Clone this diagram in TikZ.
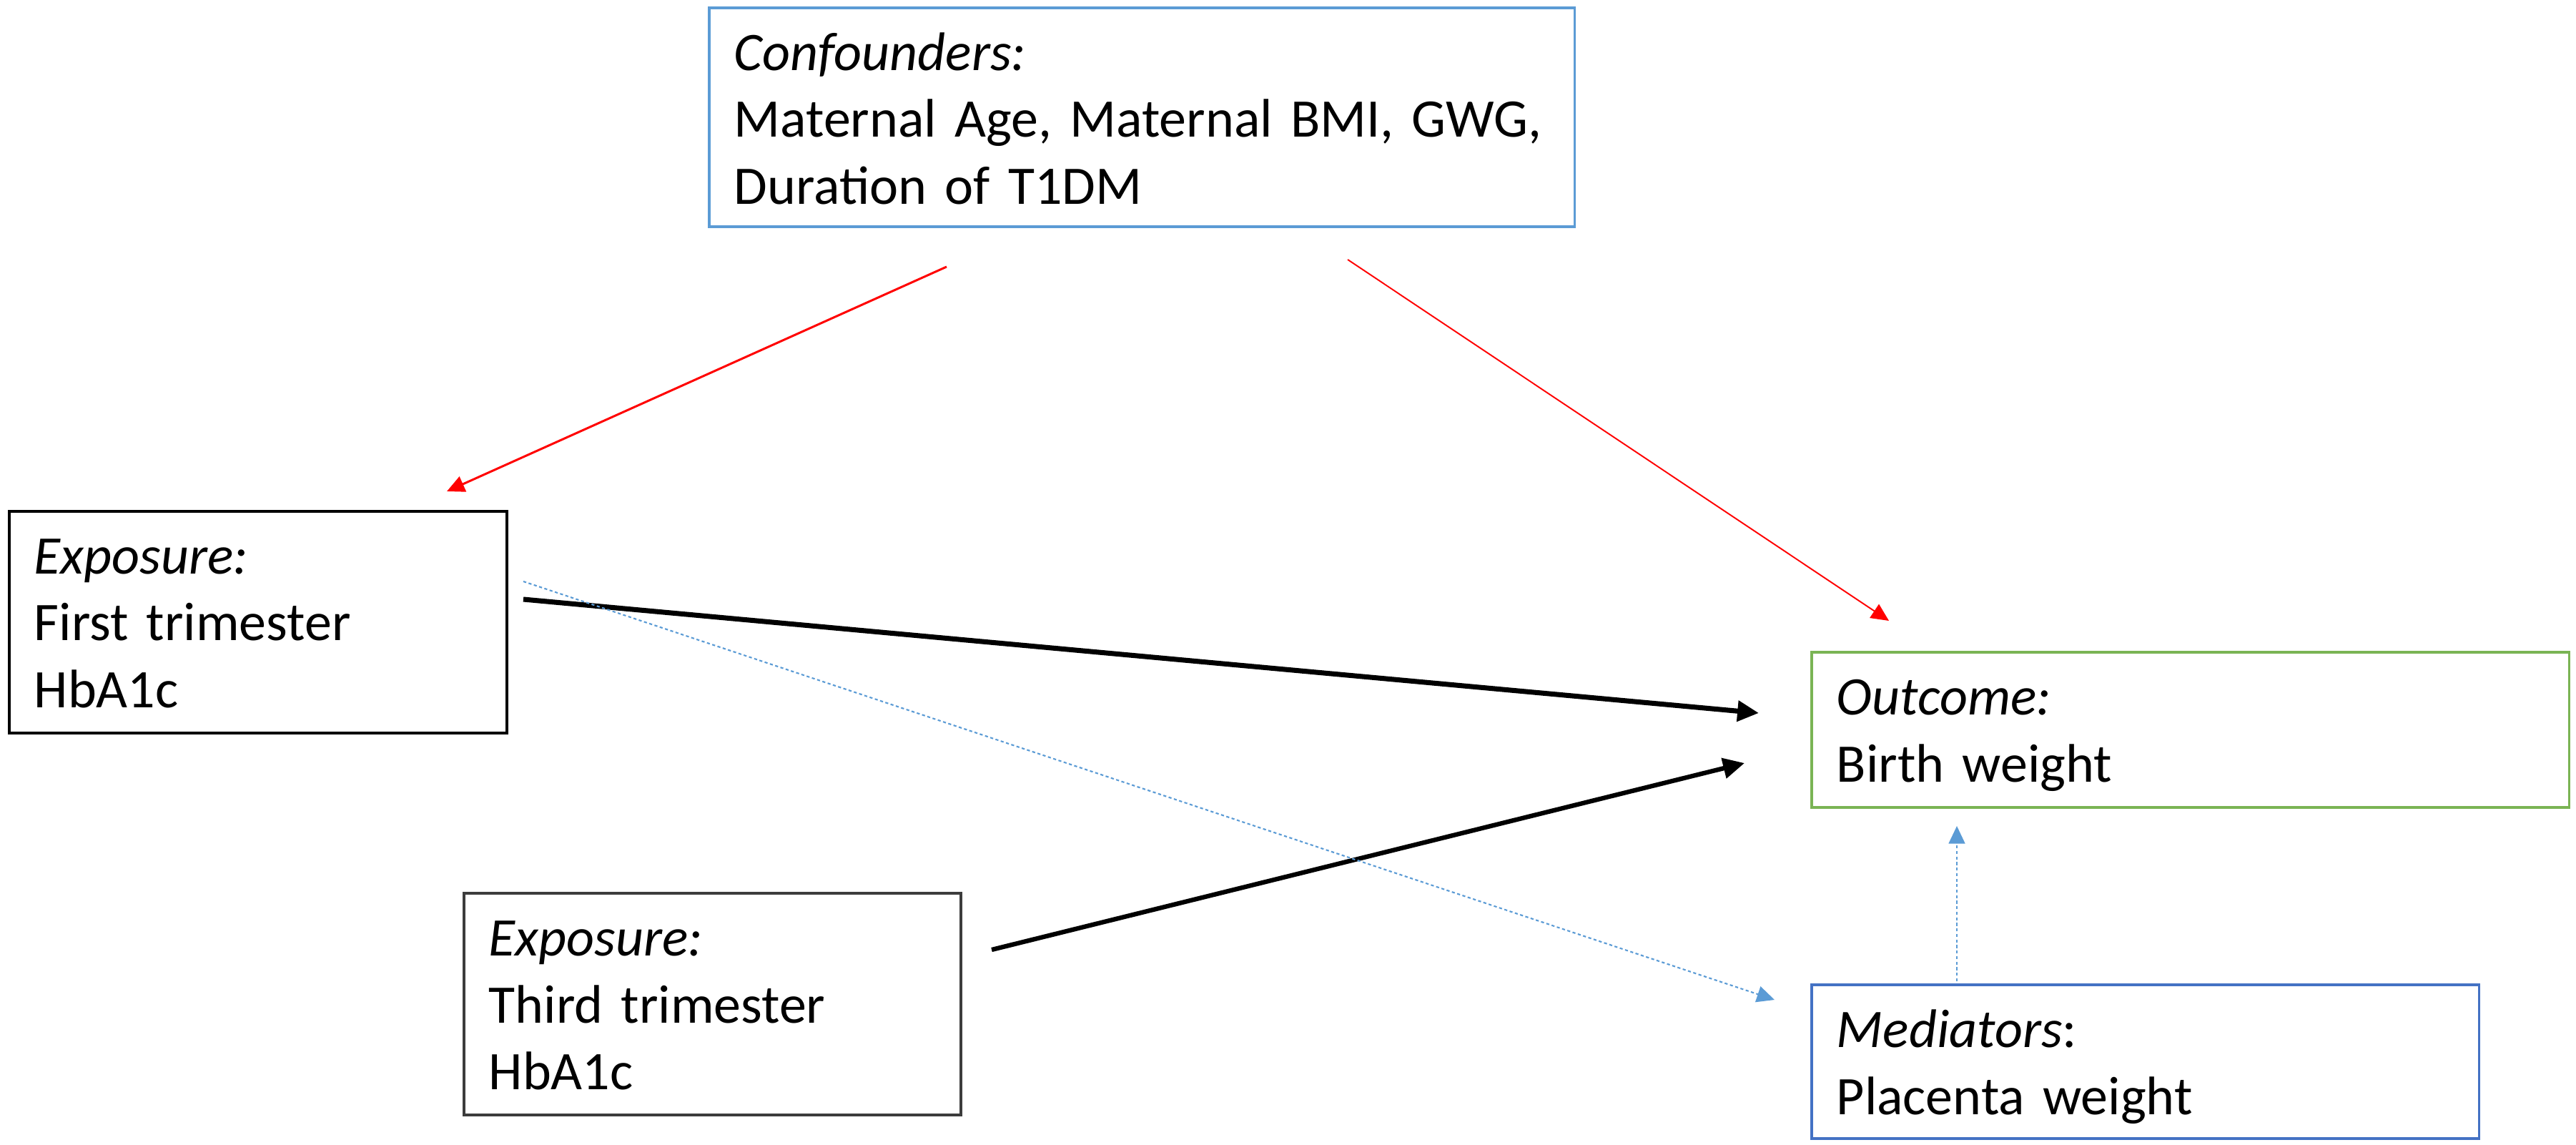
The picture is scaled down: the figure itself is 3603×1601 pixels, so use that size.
\documentclass[tikz,border=0pt]{standalone}
\usepackage{fontspec}
\setmainfont{Carlito}
\usetikzlibrary{arrows.meta}
\definecolor{confblue}{RGB}{91, 155, 213}
\definecolor{medblue}{RGB}{68, 114, 196}
\definecolor{outgreen}{RGB}{122, 180, 84}
\definecolor{expogray}{RGB}{60, 60, 60}
\definecolor{linkred}{RGB}{255, 0, 0}
\definecolor{dotblue}{RGB}{91, 155, 213}

\begin{document}
\begin{tikzpicture}[x=0.01cm, y=-0.01cm,
    box/.style={draw, line width=1pt, anchor=north west, inner xsep=0.35cm, inner ysep=0pt,
                text height=0.88cm, align=left, font=\fontsize{21.6}{26.5}\selectfont},
    redlink/.style={-{Triangle[length=7pt, width=6.5pt]}, color=linkred},
    blacklink/.style={-{Triangle[length=8.5pt, width=8pt]}, line width=2pt},
    bluelink/.style={-{Triangle[length=7pt, width=6.5pt]}, color=dotblue, line width=0.6pt,
                     dash pattern=on 1.2pt off 1pt}]
            \useasboundingbox (0,0) rectangle (3603,1601);
            \node[box, draw=confblue, text width=11.40cm, text depth=2.18cm] (conf)  at ( 990,   9) {\textit{Confounders:}\\Maternal Age, Maternal BMI, GWG,\\Duration of T1DM};
            \node[box, draw=black,    text width= 6.26cm, text depth=2.22cm] (expoA) at (  11, 713) {\textit{Exposure:}\\First trimester\\HbA1c};
            \node[box, draw=expogray, text width= 6.25cm, text depth=2.22cm] (expoC) at ( 647,1247) {\textit{Exposure:}\\Third trimester\\HbA1c};
            \node[box, draw=outgreen, text width= 9.89cm, text depth=1.29cm] (outc)  at (2532, 910) {\textit{Outcome:}\\Birth weight};
            \node[box, draw=medblue,  text width= 8.63cm, text depth=1.27cm] (medi)  at (2532,1375) {\textit{Mediators}:\\Placenta weight};
            \coordinate (confL)  at (1324, 373);  \coordinate (expoAT) at ( 625, 687);
            \coordinate (confR)  at (1885, 363);  \coordinate (outcT)  at (2642, 868);
            \coordinate (expoAR) at ( 732, 838);  \coordinate (outcL)  at (2460, 997);
            \coordinate (expoCR) at (1387,1328);  \coordinate (outcLL) at (2440,1067);
            \coordinate (expoAD) at ( 732, 813);  \coordinate (mediL)  at (2482,1398);
            \coordinate (mediT)  at (2737,1372);  \coordinate (outcB)  at (2737,1155);
            \draw[redlink,   line width=0.85pt] (confL)  -- (expoAT);
            \draw[redlink,   line width=0.55pt] (confR)  -- (outcT);
            \draw[blacklink]                    (expoAR) -- (outcL);
            \draw[blacklink, line width=1.8pt]  (expoCR) -- (outcLL);
            \draw[bluelink]                     (expoAD) -- (mediL);
            \draw[bluelink]                     (mediT)  -- (outcB);
\end{tikzpicture}
\end{document}
